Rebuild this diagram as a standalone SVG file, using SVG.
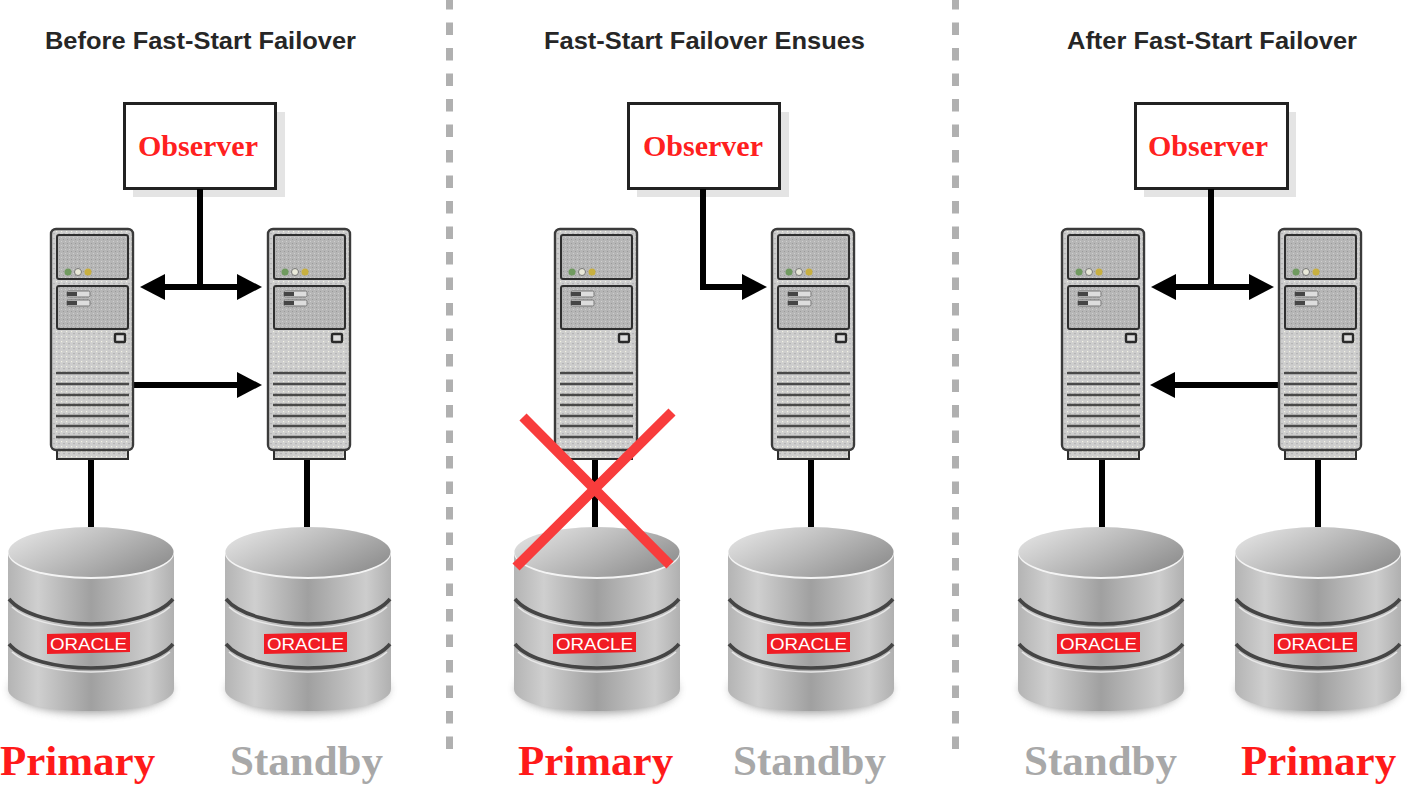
<svg xmlns="http://www.w3.org/2000/svg" width="1411" height="800" viewBox="0 0 1411 800">
<style>
.title{font:bold 24px "Liberation Sans",Arial,sans-serif;fill:#262626}
.obs{font:bold 30px "Liberation Serif","Times New Roman",serif;fill:#ff2020;text-anchor:middle}
.role{font:bold 43px "Liberation Serif","Times New Roman",serif}
.pri{fill:#ff1a1a}
.stb{fill:#a8a8a8}
.logo{font:16px "Liberation Sans",Arial,sans-serif;fill:#fff;text-anchor:middle}
.box{fill:#fff;stroke:#222;stroke-width:3}
.shadow{fill:#e4e4e4}
.conn{fill:none;stroke:#000;stroke-width:6}
.div{fill:none;stroke:#b0b0b0;stroke-width:7;stroke-dasharray:12.5 13}
.x{fill:none;stroke:#f83c3c;stroke-width:10}
.panel{fill:url(#speck2);stroke:#2e2e2e;stroke-width:2}
.vent{stroke:#484848;stroke-width:2.6}
</style>
<defs>
<pattern id="speck" width="5" height="5" patternUnits="userSpaceOnUse">
<rect width="5" height="5" fill="#cdcdcd"/>
<rect x="1" y="1" width="1.2" height="1.2" fill="#f2f2e4"/>
<rect x="3.4" y="3" width="1.2" height="1.2" fill="#a8a8a8"/>
</pattern>
<pattern id="speck2" width="4" height="4" patternUnits="userSpaceOnUse">
<rect width="4" height="4" fill="#b6b6b6"/>
<rect x="1" y="1" width="1" height="1" fill="#cfcfcf"/>
<rect x="3" y="3" width="1" height="1" fill="#9a9a9a"/>
</pattern>
<linearGradient id="body" x1="0" x2="1" y1="0" y2="0">
<stop offset="0" stop-color="#b4b4b4"/><stop offset=".18" stop-color="#cfcfcf"/><stop offset=".5" stop-color="#a0a0a0"/><stop offset=".85" stop-color="#cdcdcd"/><stop offset="1" stop-color="#b0b0b0"/>
</linearGradient>
<linearGradient id="top" x1="0" x2="1" y1="0.2" y2="0.8">
<stop offset="0" stop-color="#e2e2e2"/><stop offset=".45" stop-color="#bcbcbc"/><stop offset="1" stop-color="#8c8c8c"/>
</linearGradient>
<filter id="soft" x="-20%" y="-20%" width="140%" height="140%"><feGaussianBlur stdDeviation="5"/></filter>
<filter id="aa" x="-5%" y="-5%" width="110%" height="110%"><feGaussianBlur stdDeviation="0.6"/></filter>
<marker id="arrow" markerUnits="userSpaceOnUse" markerWidth="26" markerHeight="28" refX="14" refY="14" orient="auto-start-reverse">
<path d="M0 1 L25 14 L0 27 Z" fill="#000"/>
</marker>
<g id="server" filter="url(#aa)">
<rect x="57" y="445" width="71" height="14" fill="url(#speck)" stroke="#2e2e2e" stroke-width="2"/>
<rect x="51" y="229" width="82" height="221" rx="5" fill="url(#speck)" stroke="#3a3a3a" stroke-width="2.4"/>
<rect x="57" y="235" width="71" height="44" rx="2" class="panel"/>
<rect x="57" y="286" width="71" height="43" rx="2" class="panel"/>
<circle cx="68" cy="272" r="3.500" fill="#6f9a5f"/><circle cx="78" cy="272" r="3.500" fill="#e8e8d8" stroke="#777"/><circle cx="88" cy="272" r="3.500" fill="#c8b040"/>
<rect x="67" y="291" width="23" height="6" rx="1.500" fill="#ddd" stroke="#777"/><rect x="67" y="300" width="23" height="6" rx="1.500" fill="#ddd" stroke="#777"/>
<rect x="67" y="292" width="10" height="4" fill="#444"/><rect x="67" y="301" width="10" height="4" fill="#444"/>
<rect x="115" y="334" width="10" height="8" rx="1" fill="#ddd" stroke="#2a2a2a" stroke-width="2.400"/>
<path class="vent" d="M56 373H129M56 384H129M56 395H129M56 405H129M56 416H129M56 426H129M56 437H129"/>
</g>
<g id="db">
<ellipse cx="83" cy="162" rx="80" ry="24" fill="#777" opacity=".75" filter="url(#soft)"/>
<path d="M0 27V162C0 174 30 184 83 184C136 184 166 174 166 162V27Z" fill="url(#body)"/>
<ellipse cx="83" cy="26" rx="83" ry="26" fill="#f4f4f4"/>
<ellipse cx="83" cy="25" rx="82.500" ry="25" fill="url(#top)"/>
<path d="M1 72C14 88 50 97 83 97C116 97 152 88 165 72" fill="none" stroke="#454545" stroke-width="3.600"/>
<path d="M1 117C14 133 50 141 83 141C116 141 152 133 165 117" fill="none" stroke="#454545" stroke-width="3.600"/>
<path d="M4 80C18 93 50 101 83 101C116 101 148 93 162 80" fill="none" stroke="#e8e8e8" stroke-width="1.500"/>
<path d="M4 125C18 138 50 145 83 145C116 145 148 138 162 125" fill="none" stroke="#e8e8e8" stroke-width="1.500"/>
<path d="M39 107L122 105V125L39 127Z" fill="#f01c24"/>
<text class="logo" x="80.500" y="122.500" textLength="77" lengthAdjust="spacingAndGlyphs">ORACLE</text>
</g>
</defs>
<rect width="1411" height="800" fill="#fff"/>

<path class="div" d="M449.500 -3V750"/>
<path class="div" d="M955.500 -3V750"/>

<text class="title" x="45" y="49" textLength="311" lengthAdjust="spacingAndGlyphs">Before Fast-Start Failover</text>
<text class="title" x="544" y="49" textLength="321" lengthAdjust="spacingAndGlyphs">Fast-Start Failover Ensues</text>
<text class="title" x="1067" y="49" textLength="290" lengthAdjust="spacingAndGlyphs">After Fast-Start Failover</text>

<g id="observer-1"><rect class="shadow" x="133" y="112" width="152" height="85"/><rect class="box" x="124.500" y="103.500" width="151" height="85"/><text class="obs" x="198" y="156">Observer</text></g>
<g id="observer-2"><rect class="shadow" x="637" y="112" width="152" height="85"/><rect class="box" x="628.500" y="103.500" width="151" height="85"/><text class="obs" x="703" y="156">Observer</text></g>
<g id="observer-3"><rect class="shadow" x="1144" y="112" width="152" height="85"/><rect class="box" x="1135.500" y="103.500" width="152" height="85"/><text class="obs" x="1208" y="156">Observer</text></g>

<g id="connectors">
<path class="conn" d="M200 189V287"/>
<path class="conn" d="M151 287H251" marker-start="url(#arrow)" marker-end="url(#arrow)"/>
<path class="conn" d="M133 385H251" marker-end="url(#arrow)"/>
<path class="conn" d="M91 459V527M307 459V527"/>
<path class="conn" d="M703 189V287H756" marker-end="url(#arrow)"/>
<path class="conn" d="M595 459V527M811 459V527"/>
<path class="conn" d="M1211 189V287"/>
<path class="conn" d="M1162 287H1263" marker-start="url(#arrow)" marker-end="url(#arrow)"/>
<path class="conn" d="M1279 385H1161" marker-end="url(#arrow)"/>
<path class="conn" d="M1102 459V527M1318 459V527"/>
</g>

<g id="server-1a"><use href="#server"/></g>
<g id="server-1b"><use href="#server" x="217"/></g>
<g id="server-2a"><use href="#server" x="504"/></g>
<g id="server-2b"><use href="#server" x="721"/></g>
<g id="server-3a"><use href="#server" x="1011"/></g>
<g id="server-3b"><use href="#server" x="1228"/></g>

<g id="db-1a"><use href="#db" x="8" y="527"/><text class="role pri" x="0" y="775">Primary</text></g>
<g id="db-1b"><use href="#db" x="225" y="527"/><text class="role stb" x="230" y="775">Standby</text></g>
<g id="db-2a"><use href="#db" x="514" y="527"/><text class="role pri" x="518" y="775">Primary</text></g>
<g id="db-2b"><use href="#db" x="728" y="527"/><text class="role stb" x="733" y="775">Standby</text></g>
<g id="db-3a"><use href="#db" x="1018" y="527"/><text class="role stb" x="1024" y="775">Standby</text></g>
<g id="db-3b"><use href="#db" x="1235" y="527"/><text class="role pri" x="1241" y="775">Primary</text></g>

<path class="x" d="M523 417L670 565M672 412L516 567"/>
</svg>
